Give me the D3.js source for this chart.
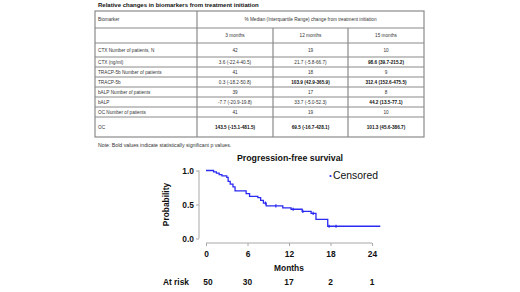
<!DOCTYPE html>
<html>
<head>
<meta charset="utf-8">
<script src="https://cdn.jsdelivr.net/npm/d3@7"></script>
<style>
  html, body { margin: 0; padding: 0; background: #fff; }
  svg { display: block; font-family: "Liberation Sans", Arial, sans-serif; }
</style>
</head>
<body>
<div id="chart"></div>
<script>
// Table data
var tableTitle = "Relative changes in biomarkers from treatment initiation";
var headerLabel = "Biomarker";
var headerSpan = "% Median (Interquartile Range) change from treatment initiation";
var periods = ["3 months", "12 months", "15 months"];
var rowLabels = ["CTX Number of patients, N", "CTX (ng/ml)", "TRACP-5b Number of patients", "TRACP-5b",
    "bALP Number of patients", "bALP", "OC Number of patients", "OC"];
var rowValues = [
    ["42", "19", "10"],
    ["3.6 (-22.4-40.5)", "21.7 (-5.8-66.7)", "98.6 (39.7-215.2)"],
    ["41", "18", "9"],
    ["0.3 (-18.2-50.8)", "103.9 (42.9-365.9)", "312.4 (152.6-475.5)"],
    ["39", "17", "8"],
    ["-7.7 (-20.9-19.8)", "33.7 (-5.0-52.3)", "44.2 (13.5-77.1)"],
    ["41", "19", "10"],
    ["143.5 (-15.1-481.5)", "69.5 (-16.7-428.1)", "101.3 (45.6-386.7)"]];
var rowBold = [
    [false, false, false],
    [false, false, true],
    [false, false, false],
    [false, true, true],
    [false, false, false],
    [false, false, true],
    [false, false, false],
    [true, true, true]];
var noteText = "Note: Bold values indicate statistically significant p values.";

// Survival curve data
var stepTimes = [0, 1.1, 1.5, 1.9, 2.3, 3.0, 3.2, 3.5, 3.9, 4.2, 5.8, 6.3, 7.5, 7.9, 8.3, 8.7, 11.1, 12.3, 13.9, 15.2, 15.9, 17.6];
var stepSurv = [1.0, 0.98, 0.96, 0.94, 0.92, 0.9, 0.84, 0.8, 0.76, 0.7, 0.66, 0.62, 0.6, 0.56, 0.52, 0.48, 0.45, 0.43, 0.4, 0.37, 0.28, 0.18];
var followUpEnd = 25.2;
var censorTimes = [8.6, 10.1, 12.6, 14.0, 15.5, 17.8, 18.8];
var monthTicks = [0, 6, 12, 18, 24];
var probTicks = [0, 0.5, 1];
var atRisk = [50, 30, 17, 2, 1];

var W = 520, H = 292;
var svg = d3.select("#chart").append("svg")
    .attr("width", W)
    .attr("height", H);

// ---- table ----
var colEdges = [95, 197, 273, 348, 424];
var rowHeights = [17, 15, 14, 10, 10, 10, 10, 10, 10, 20];
var tableTop = 11;
var rowEdges = [tableTop];
rowHeights.forEach(function(h) { rowEdges.push(rowEdges[rowEdges.length - 1] + h); });
var tFont = 4.7, gridColor = "#8a8a8a", textColor = "#333";

svg.append("text")
    .attr("x", 98).attr("y", 6.8)
    .attr("font-size", 6)
    .attr("fill", "#111")
    .attr("font-weight", 600)
    .text(tableTitle);

var tbl = svg.append("g");
tbl.append("rect")
    .attr("x", colEdges[0]).attr("y", rowEdges[0])
    .attr("width", colEdges[4] - colEdges[0])
    .attr("height", rowEdges[rowEdges.length - 1] - rowEdges[0])
    .attr("fill", "none")
    .attr("stroke", gridColor)
    .attr("stroke-width", 1.2);

tbl.selectAll("line.h")
    .data(rowEdges.slice(1, -1))
    .enter()
    .append("line")
    .attr("class", "h")
    .attr("x1", colEdges[0]).attr("x2", colEdges[4])
    .attr("y1", function(d) { return d; })
    .attr("y2", function(d) { return d; })
    .attr("stroke", gridColor)
    .attr("stroke-width", 1.2);

// first vertical divider spans all rows, the others start below the merged header
tbl.selectAll("line.v")
    .data([1, 2, 3])
    .enter()
    .append("line")
    .attr("class", "v")
    .attr("x1", function(d) { return colEdges[d]; })
    .attr("x2", function(d) { return colEdges[d]; })
    .attr("y1", function(d) { return d === 1 ? rowEdges[0] : rowEdges[1]; })
    .attr("y2", rowEdges[rowEdges.length - 1])
    .attr("stroke", gridColor)
    .attr("stroke-width", 1.2);

function rowMid(i) { return (rowEdges[i] + rowEdges[i + 1]) / 2; }
function colMid(j) { return (colEdges[j] + colEdges[j + 1]) / 2; }

tbl.append("text")
    .attr("x", colEdges[0] + 3).attr("y", rowMid(0))
    .attr("dy", "0.35em").attr("font-size", tFont).attr("fill", textColor)
    .text(headerLabel);
tbl.append("text")
    .attr("x", (colEdges[1] + colEdges[4]) / 2).attr("y", rowMid(0))
    .attr("dy", "0.35em").attr("text-anchor", "middle")
    .attr("font-size", tFont).attr("fill", textColor)
    .text(headerSpan);
tbl.selectAll("text.period")
    .data(periods)
    .enter()
    .append("text")
    .attr("class", "period")
    .attr("x", function(d, j) { return colMid(j + 1); })
    .attr("y", rowMid(1))
    .attr("dy", "0.35em").attr("text-anchor", "middle")
    .attr("font-size", tFont).attr("fill", textColor)
    .text(function(d) { return d; });

var bodyRows = tbl.selectAll("g.row")
    .data(rowLabels)
    .enter()
    .append("g")
    .attr("class", "row");
bodyRows.append("text")
    .attr("x", colEdges[0] + 3)
    .attr("y", function(d, i) { return rowMid(i + 2); })
    .attr("dy", "0.35em").attr("font-size", tFont).attr("fill", textColor)
    .text(function(d) { return d; });
bodyRows.each(function(d, i) {
    d3.select(this).selectAll("text.val")
        .data(rowValues[i])
        .enter()
        .append("text")
        .attr("class", "val")
        .attr("x", function(v, j) { return colMid(j + 1); })
        .attr("y", rowMid(i + 2))
        .attr("dy", "0.35em").attr("text-anchor", "middle")
        .attr("font-size", tFont)
        .attr("fill", function(v, j) { return rowBold[i][j] ? "#111" : textColor; })
        .attr("font-weight", function(v, j) { return rowBold[i][j] ? "bold" : "normal"; })
        .text(function(v) { return v; });
});

svg.append("text")
    .attr("x", 98).attr("y", rowEdges[rowEdges.length - 1] + 8)
    .attr("dy", "0.35em")
    .attr("font-size", 5.2).attr("fill", textColor)
    .text(noteText);

// ---- survival plot ----
var x = d3.scaleLinear().domain([0, 24]).range([206, 372]);
var y = d3.scaleLinear().domain([0, 1]).range([238.5, 170.5]);
var blue = "#2a2af2", axisGray = "#a8a8a8", labFont = 8.4;

svg.append("text")
    .attr("x", 290).attr("y", 158)
    .attr("dy", "0.35em").attr("text-anchor", "middle")
    .attr("font-size", 8.8).attr("font-weight", "bold").attr("fill", "#111")
    .text("Progression-free survival");

// legend
svg.append("circle").attr("cx", 330.5).attr("cy", 176).attr("r", 1.1).attr("fill", blue);
svg.append("text")
    .attr("x", 333).attr("y", 175.5)
    .attr("dy", "0.35em")
    .attr("font-size", 10.4).attr("fill", "#111")
    .text("Censored");

// y axis
var yAxis = svg.append("g")
    .attr("transform", "translate(199,0)")
    .call(d3.axisLeft(y).tickValues(probTicks).tickFormat(d3.format(".1f")).tickSize(3).tickPadding(2));
yAxis.select(".domain").attr("stroke", axisGray).attr("d", "M0," + y(0) + "V" + y(1));
yAxis.selectAll(".tick line").attr("stroke", axisGray);
yAxis.selectAll(".tick text")
    .attr("font-size", labFont).attr("font-weight", "bold").attr("fill", "#111")
    .attr("font-family", "Liberation Sans, Arial, sans-serif");

// x axis
var xAxis = svg.append("g")
    .attr("transform", "translate(0,243)")
    .call(d3.axisBottom(x).tickValues(monthTicks).tickSize(3).tickPadding(5));
xAxis.select(".domain").attr("stroke", axisGray).attr("d", "M" + x(0) + ",0H" + x(24));
xAxis.selectAll(".tick line").attr("stroke", axisGray);
xAxis.selectAll(".tick text")
    .attr("font-size", labFont).attr("font-weight", "bold").attr("fill", "#111")
    .attr("font-family", "Liberation Sans, Arial, sans-serif");

svg.append("text")
    .attr("x", x(12)).attr("y", 268)
    .attr("dy", "0.35em").attr("text-anchor", "middle")
    .attr("font-size", labFont).attr("font-weight", "bold").attr("fill", "#111")
    .text("Months");
svg.append("text")
    .attr("transform", "translate(166," + y(0.5) + ") rotate(-90)")
    .attr("dy", "0.35em").attr("text-anchor", "middle")
    .attr("font-size", labFont).attr("font-weight", "bold").attr("fill", "#111")
    .text("Probability");

// at risk row
svg.append("text")
    .attr("x", 189).attr("y", 282)
    .attr("dy", "0.35em").attr("text-anchor", "end")
    .attr("font-size", labFont).attr("font-weight", "bold").attr("fill", "#111")
    .text("At risk");
svg.selectAll("text.risk")
    .data(atRisk)
    .enter()
    .append("text")
    .attr("class", "risk")
    .attr("x", function(d, i) { return x(monthTicks[i]) + (i === 0 ? 2 : 0); })
    .attr("y", 282)
    .attr("dy", "0.35em").attr("text-anchor", "middle")
    .attr("font-size", labFont).attr("font-weight", "bold").attr("fill", "#111")
    .text(function(d) { return d; });

// KM step curve
var pts = stepTimes.map(function(t, i) { return [t, stepSurv[i]]; });
pts.push([followUpEnd, stepSurv[stepSurv.length - 1]]);
var kmLine = d3.line()
    .x(function(d) { return x(d[0]); })
    .y(function(d) { return y(d[1]); })
    .curve(d3.curveStepAfter);
svg.append("path")
    .attr("d", kmLine(pts))
    .attr("fill", "none")
    .attr("stroke", blue)
    .attr("stroke-width", 1.3);

function survAt(t) {
    var i = d3.bisectRight(stepTimes, t) - 1;
    return stepSurv[Math.max(0, i)];
}
svg.selectAll("line.censor")
    .data(censorTimes)
    .enter()
    .append("line")
    .attr("class", "censor")
    .attr("x1", function(d) { return x(d); })
    .attr("x2", function(d) { return x(d); })
    .attr("y1", function(d) { return y(survAt(d)) - 1.6; })
    .attr("y2", function(d) { return y(survAt(d)) + 1.6; })
    .attr("stroke", blue)
    .attr("stroke-width", 1.2);
</script>
</body>
</html>
